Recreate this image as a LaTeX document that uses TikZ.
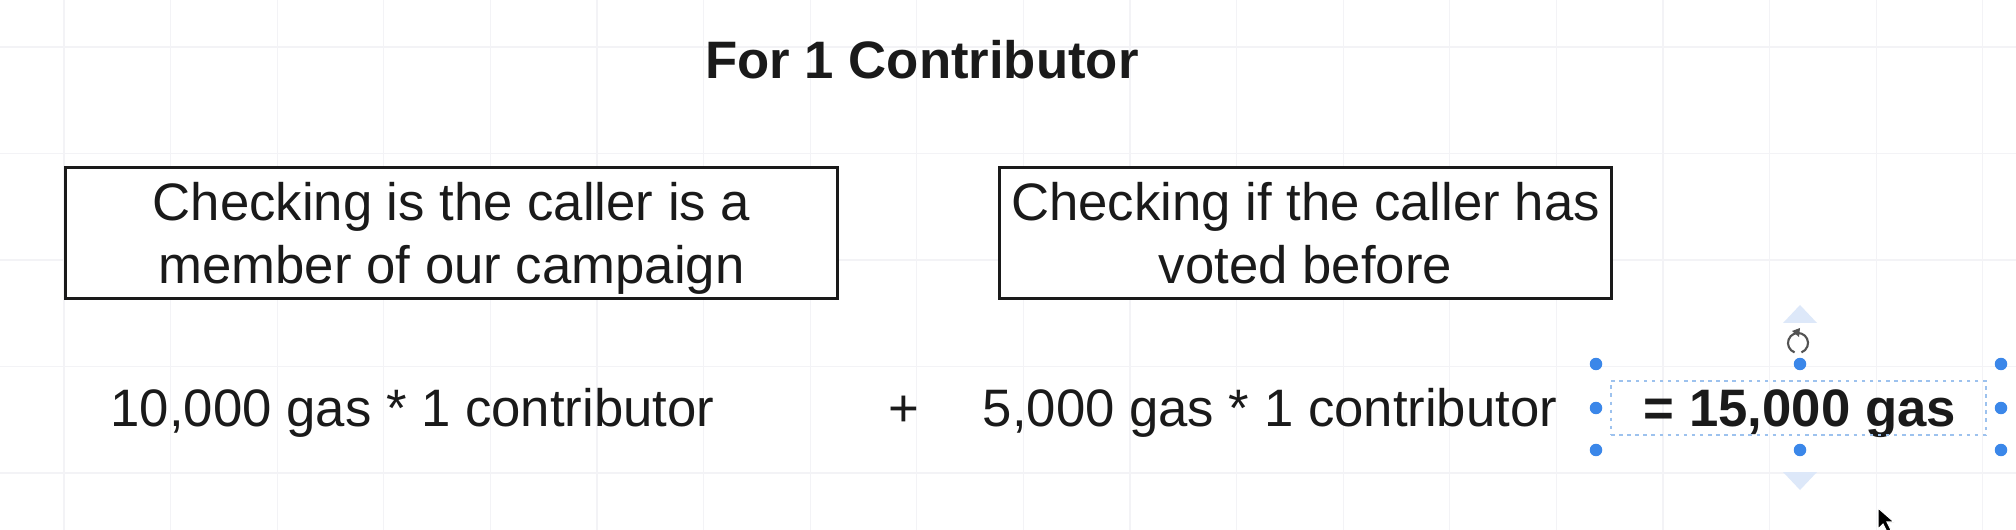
\documentclass[tikz,border=0pt]{standalone}
\usepackage{fontspec}
\setmainfont{Liberation Sans}
\usetikzlibrary{positioning, arrows.meta}
\usepackage{xcolor}
\definecolor{dwink}{HTML}{1A1A1A}
\definecolor{dwgrid}{HTML}{F3F3F6}
\definecolor{dwblue}{HTML}{3B87E9}
\definecolor{dwsel}{HTML}{9DC2EE}
\definecolor{dwpale}{HTML}{DDE8F9}

\begin{document}
\begin{tikzpicture}[x=0.02cm, y=-0.02cm, font=\fontsize{30}{36}\selectfont,
    box/.style={draw=dwink, line width=1.7pt, fill=white, align=center, text=dwink,
      text depth=0pt, inner sep=0pt},
    sum/.style={anchor=base, text=dwink, inner sep=0pt},
    handle/.style={circle, fill=dwblue, inner sep=0pt, minimum size=0.25cm}]
  \useasboundingbox (0,0) rectangle (2016,530);
  \fill[white] (0,0) rectangle (2016,530);
  \foreach \k in {0,...,18}
    \draw[dwgrid, line width=0.6pt] ({64+106.6*\k},0) -- ({64+106.6*\k},530);
  \foreach \k in {0,...,4}
    \draw[dwgrid, line width=0.6pt] (0,{47+106.5*\k}) -- (2016,{47+106.5*\k});

  \node[sum, font=\fontsize{30}{36}\selectfont\bfseries] (title) at (922,79) {For 1 Contributor};

  \node[box, minimum width=15.46cm, minimum height=2.62cm] (member) at (451.5,233)
    {Checking is the caller is a\\member of our campaign};
  \node[box, minimum width=12.24cm, minimum height=2.62cm] (voted) at (1305.5,233)
    {Checking if the caller has\\voted before};

  \node[sum] (cost1) at (412.5,426) {10,000 gas * 1 contributor};
  \node[sum] (plus) at (904,426) {+};
  \node[sum] (cost2) at (1270,426) {5,000 gas * 1 contributor};
  \node[sum, font=\fontsize{30}{36}\selectfont\bfseries] (total) at (1800,426) {= 15,000 gas};

  \node[draw=dwsel, line width=1.1pt, dash pattern=on 2pt off 2.6pt,
    minimum width=7.5cm, minimum height=1.08cm, inner sep=0pt] (sel) at (1798.5,408) {};
  \foreach \hx/\hy [count=\i] in {1596/364, 1800/364, 2001/364, 1596/408, 2001/408, 1596/450, 1800/450, 2001/450}
    \node[handle] (h\i) at (\hx,\hy) {};
  \fill[dwpale] (1783,323) -- (1800,305) -- (1817,323) -- cycle;
  \fill[dwpale] (1783,472) -- (1800,490) -- (1817,472) -- cycle;
  \draw[dwink!75, line width=1.2pt] (1798,343) ++(110:10) arc[start angle=110, end angle=430, radius=10];
  \fill[dwink!75] (1792,331) -- (1800,328) -- (1799,337) -- cycle;
  \filldraw[fill=black, draw=white, line width=0.6pt]
    (1878,508) -- (1878,529) -- (1883,524) -- (1887,532) -- (1891,530) -- (1887,522) -- (1894,522) -- cycle;
\end{tikzpicture}
\end{document}
